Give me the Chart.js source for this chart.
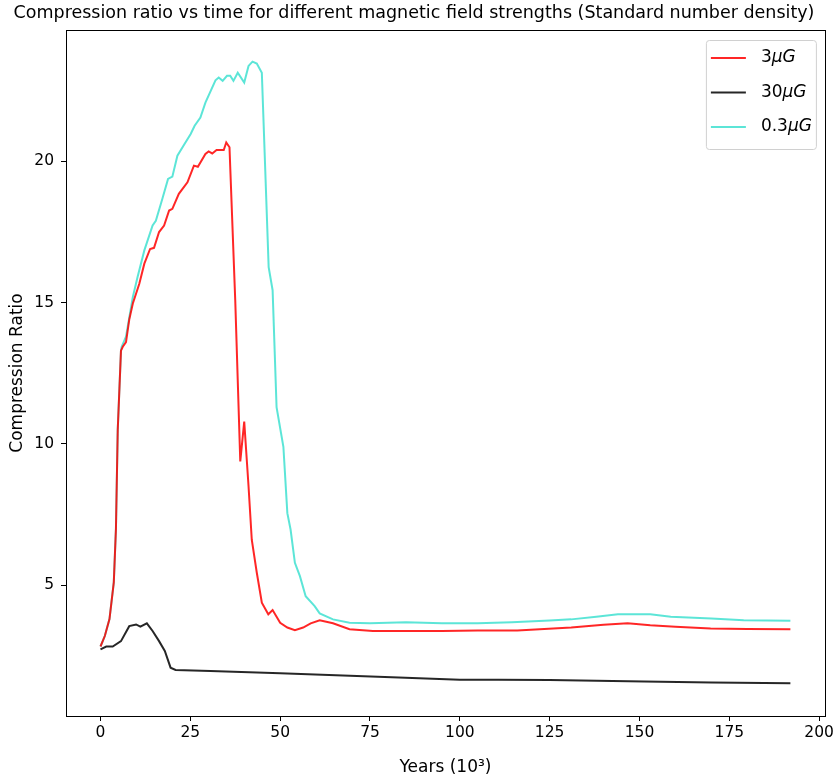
<!DOCTYPE html>
<html>
<head>
<meta charset="utf-8">
<script src="https://cdn.jsdelivr.net/npm/chart.js@4.4.1/dist/chart.umd.min.js"></script>
<style>
  html, body { margin: 0; padding: 0; background: #fff; }
  #wrap { width: 837px; height: 783px; }
</style>
</head>
<body>
<div id="wrap"><canvas id="ratioChart" width="837" height="783"></canvas></div>
<script>
// series labels and colours
var seriesLabels = ['3\u03bcG', '30\u03bcG', '0.3\u03bcG'];
var seriesColors = ['rgba(255,0,0,0.85)', 'rgba(0,0,0,0.85)', 'rgba(64,224,208,0.85)'];

// 3 microgauss
var years3 = [0, 1.2, 2.5, 3.7, 4.3, 4.8, 5.7, 6.2, 7.1, 8.0, 9.0, 10.8, 12.2, 13.8, 14.9, 16.3, 17.7, 19.1, 20.0, 21.8, 24.2, 26.0, 27.1, 29.2, 30.1, 31.1, 32.3, 34.3, 35.0, 35.9, 37.5, 38.9, 40.0, 41.2, 42.1, 43.5, 44.9, 46.7, 47.9, 50.0, 52.0, 54.1, 56.4, 58.5, 61.0, 64.7, 69.3, 75.8, 83.1, 95, 105, 116, 131, 140, 146.7, 153, 160, 169.8, 180, 192];
var ratio3 = [2.83, 3.2, 3.8, 5.1, 7.0, 10.5, 13.3, 13.44, 13.6, 14.4, 14.97, 15.67, 16.38, 16.9, 16.94, 17.5, 17.73, 18.26, 18.32, 18.85, 19.26, 19.85, 19.81, 20.26, 20.35, 20.28, 20.40, 20.40, 20.67, 20.5, 15.09, 9.38, 10.79, 8.5, 6.61, 5.44, 4.38, 3.97, 4.12, 3.67, 3.5, 3.41, 3.5, 3.65, 3.76, 3.65, 3.44, 3.38, 3.38, 3.38, 3.40, 3.40, 3.50, 3.6, 3.65, 3.58, 3.53, 3.47, 3.45, 3.44];

// 30 microgauss
var years30 = [0, 1.6, 3.4, 5.7, 8.0, 9.9, 11.1, 12.9, 14.5, 16.3, 17.9, 19.5, 20.9, 30.6, 50, 83, 100, 110.8, 125, 151.3, 170, 192];
var ratio30 = [2.73, 2.83, 2.83, 3.02, 3.55, 3.61, 3.53, 3.65, 3.38, 3.02, 2.67, 2.08, 2.0, 1.96, 1.88, 1.73, 1.65, 1.65, 1.64, 1.59, 1.56, 1.53];

// 0.3 microgauss
var years03 = [0, 1.2, 2.5, 3.7, 4.3, 4.8, 5.7, 5.9, 7.1, 9.0, 10.3, 12.2, 14.5, 15.4, 17.2, 18.8, 20.0, 21.4, 23.3, 25.1, 26.2, 27.8, 29.2, 32.0, 32.9, 34.0, 35.2, 36.1, 37.0, 38.2, 40.0, 41.2, 42.3, 43.5, 44.9, 46.8, 47.9, 49.0, 50.9, 52.0, 52.9, 54.1, 55.5, 57.1, 59.6, 61.0, 64.7, 69.3, 75, 85, 95, 105, 114.5, 125, 131, 138, 144, 153, 158.7, 170, 179, 192];
var ratio03 = [2.83, 3.2, 3.8, 5.1, 7.0, 10.5, 13.3, 13.44, 13.8, 15.2, 15.9, 16.85, 17.73, 17.9, 18.67, 19.38, 19.46, 20.2, 20.6, 20.97, 21.26, 21.55, 22.08, 22.87, 22.97, 22.85, 23.03, 23.03, 22.85, 23.14, 22.79, 23.38, 23.53, 23.46, 23.14, 16.26, 15.44, 11.3, 9.9, 7.55, 6.97, 5.79, 5.32, 4.61, 4.26, 4.0, 3.79, 3.67, 3.65, 3.69, 3.65, 3.65, 3.69, 3.75, 3.79, 3.88, 3.97, 3.97, 3.88, 3.82, 3.76, 3.74];

var xTicks = [0, 25, 50, 75, 100, 125, 150, 175, 200];
var yTicks = [5, 10, 15, 20];

var FONT = "'DejaVu Sans', sans-serif";

function toPoints(xs, ys) {
    var pts = [];
    for (var i = 0; i < xs.length; i++) {
        pts.push({ x: xs[i], y: ys[i] });
    }
    return pts;
}

function makeDataset(i, xs, ys) {
    return {
        label: seriesLabels[i],
        data: toPoints(xs, ys),
        borderColor: seriesColors[i],
        backgroundColor: seriesColors[i],
        borderWidth: 2,
        pointRadius: 0,
        tension: 0,
        fill: false
    };
}

// frame round the plot, like matplotlib spines
var framePlugin = {
    id: 'frame',
    afterDraw: function(chart) {
        var a = chart.chartArea;
        var ctx = chart.ctx;
        ctx.save();
        ctx.strokeStyle = '#000';
        ctx.lineWidth = 1;
        ctx.strokeRect(Math.round(a.left) + 0.5, Math.round(a.top) + 0.5,
            Math.round(a.right - a.left), Math.round(a.bottom - a.top));
        ctx.restore();
    }
};

// boxed legend in the upper right corner
var legendPlugin = {
    id: 'boxLegend',
    afterDraw: function(chart) {
        var a = chart.chartArea;
        var ctx = chart.ctx;
        var sets = chart.data.datasets;
        var boxW = 110, boxH = 109;
        var bx = a.right - 9 - boxW, by = a.top + 10;
        ctx.save();
        ctx.fillStyle = 'rgba(255,255,255,0.8)';
        ctx.strokeStyle = '#d0d0d0';
        ctx.lineWidth = 1;
        ctx.beginPath();
        ctx.roundRect(bx + 0.5, by + 0.5, boxW, boxH, 3);
        ctx.fill();
        ctx.stroke();
        ctx.textBaseline = 'middle';
        for (var i = 0; i < sets.length; i++) {
            var y = by + 18 + i * 34.5;
            ctx.strokeStyle = sets[i].borderColor;
            ctx.lineWidth = 2;
            ctx.beginPath();
            ctx.moveTo(bx + 5, y);
            ctx.lineTo(bx + 40, y);
            ctx.stroke();
            var m = sets[i].label.match(/^([0-9.]+)(.*)$/);
            ctx.fillStyle = '#000';
            ctx.font = '17px ' + FONT;
            ctx.fillText(m[1], bx + 55, y);
            var w = ctx.measureText(m[1]).width;
            ctx.font = 'italic 17px ' + FONT;
            ctx.fillText(m[2], bx + 55 + w, y);
        }
        ctx.restore();
    }
};

var ctx = document.getElementById('ratioChart').getContext('2d');
var chart = new Chart(ctx, {
    type: 'line',
    data: {
        datasets: [
            makeDataset(0, years3, ratio3),
            makeDataset(1, years30, ratio30),
            makeDataset(2, years03, ratio03)
        ]
    },
    options: {
        responsive: false,
        animation: false,
        events: [],
        layout: { padding: { left: 0, right: 9, top: 0, bottom: 0 } },
        plugins: {
            legend: { display: false },
            tooltip: { enabled: false },
            title: {
                display: true,
                text: 'Compression ratio vs time for different magnetic field strengths (Standard number density)',
                color: '#000',
                font: { family: FONT, size: 17.5, weight: 'normal', lineHeight: 1.2 },
                padding: { top: 3, bottom: 6 }
            }
        },
        scales: {
            x: {
                type: 'linear',
                min: -9.6,
                max: 201.6,
                afterBuildTicks: function(scale) {
                    scale.ticks = xTicks.map(function(v) { return { value: v }; });
                },
                afterFit: function(scale) { scale.height = 67; },
                border: { display: false },
                grid: { drawOnChartArea: false, drawTicks: true, tickLength: 5, tickColor: '#000' },
                ticks: { color: '#000', font: { family: FONT, size: 15.5 }, padding: 3, maxRotation: 0 },
                title: {
                    display: true,
                    text: 'Years (10\u00b3)',
                    color: '#000',
                    font: { family: FONT, size: 17 },
                    padding: { top: 2, bottom: 5 }
                }
            },
            y: {
                type: 'linear',
                min: 0.37,
                max: 24.65,
                afterBuildTicks: function(scale) {
                    scale.ticks = yTicks.map(function(v) { return { value: v }; });
                },
                afterFit: function(scale) { scale.width = 66; },
                border: { display: false },
                grid: { drawOnChartArea: false, drawTicks: true, tickLength: 5, tickColor: '#000' },
                ticks: { color: '#000', font: { family: FONT, size: 15.5 }, padding: 7 },
                title: {
                    display: true,
                    text: 'Compression Ratio',
                    color: '#000',
                    font: { family: FONT, size: 17 },
                    padding: { top: 7, bottom: 0 }
                }
            }
        }
    },
    plugins: [framePlugin, legendPlugin]
});
</script>
</body>
</html>
